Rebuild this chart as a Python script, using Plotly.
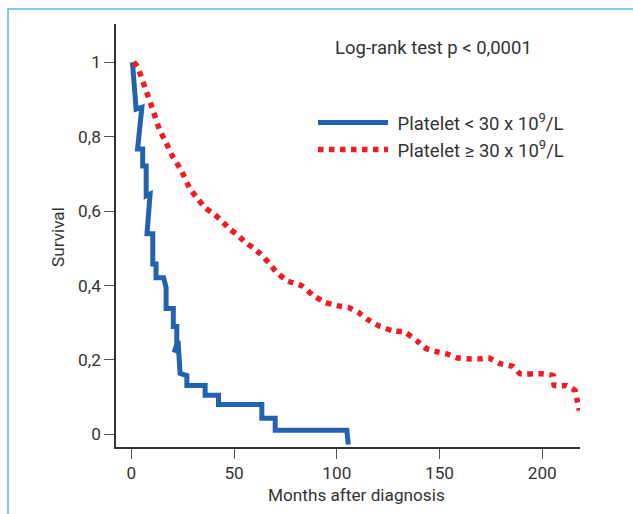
import plotly.graph_objects as go

# Kaplan-Meier curves
low_months = [0.5, 2.3, 5.1, 3.0, 5.5, 5.5, 7.2, 7.2, 9.1, 7.6, 10.4, 10.4, 12.0, 12.0, 15.7,
              16.9, 16.9, 20.4, 20.4, 22.1, 22.1, 20.8, 22.7, 23.7, 27.0, 27.0, 35.9, 35.9,
              42.4, 42.4, 63.5, 63.5, 70.0, 70.0, 104.9, 105.6]
low_surv = [1.0, 0.874, 0.879, 0.767, 0.767, 0.721, 0.721, 0.641, 0.646, 0.539, 0.539, 0.458,
            0.458, 0.421, 0.421, 0.394, 0.338, 0.338, 0.290, 0.290, 0.239, 0.220, 0.252, 0.164,
            0.158, 0.131, 0.131, 0.105, 0.105, 0.080, 0.080, 0.043, 0.043, 0.011, 0.011, -0.027]

high_months = [1.0, 2.9, 6.7, 10.4, 13.6, 16.9, 20.4, 24.1, 28.2, 31.8, 35.9, 40.7, 44.8, 48.1,
               52.1, 55.4, 59.1, 63.0, 66.7, 70.8, 75.7, 83.0, 88.6, 94.3, 100.0, 105.6, 110.5,
               114.6, 120.3, 126.8, 133.3, 138.9, 143.8, 149.5, 153.6, 158.4, 163.3, 169.8,
               173.8, 179.5, 186.0, 189.2, 199.8, 205.5, 205.8, 212.0, 216.0, 217.2, 218.1]
high_surv = [1.0, 0.989, 0.931, 0.873, 0.820, 0.784, 0.743, 0.712, 0.663, 0.636, 0.609, 0.590,
             0.569, 0.551, 0.534, 0.516, 0.502, 0.484, 0.462, 0.435, 0.413, 0.399, 0.373, 0.355,
             0.346, 0.341, 0.328, 0.310, 0.292, 0.279, 0.274, 0.252, 0.230, 0.221, 0.216, 0.206,
             0.203, 0.203, 0.206, 0.190, 0.182, 0.163, 0.163, 0.158, 0.131, 0.131, 0.118, 0.087,
             0.064]

x_ticks = [0, 50, 100, 150, 200]
y_ticks = [0, 0.2, 0.4, 0.6, 0.8, 1]
y_tick_labels = ["0", "0,2", "0,4", "0,6", "0,8", "1"]

FONT = "Roboto, sans-serif"
FS = 18.5      # annotation / legend text
FT = 17.2      # tick labels and axis titles
TXT = "#333333"
BLUE = "#2263b0"
RED = "#ee1c25"

W, H = 633, 514
ML, MR, MT, MB = 116, 53, 24, 67
PW, PH = W - ML - MR, H - MT - MB

fig = go.Figure()
fig.add_trace(go.Scatter(x=low_months, y=low_surv, mode="lines",
                         line=dict(color=BLUE, width=5),
                         name="\u00a0Platelet < 30 x 10<sup>9</sup>/L"))
fig.add_trace(go.Scatter(x=high_months, y=high_surv, mode="lines",
                         line=dict(color=RED, width=5.5, dash="dot", shape="spline", smoothing=0.3),
                         name="\u00a0Platelet \u2265 30 x 10<sup>9</sup>/L"))

def px_to_paper_x(px):
    return (px - ML) / PW

def px_to_paper_y(py):
    return (H - MB - py) / PH

fig.update_layout(
    width=W, height=H,
    margin=dict(l=ML, r=MR, t=MT, b=MB),
    paper_bgcolor="white", plot_bgcolor="white",
    font=dict(family=FONT, size=FS, color=TXT),
    showlegend=True,
    legend=dict(x=px_to_paper_x(313), y=px_to_paper_y(104), xanchor="left", yanchor="top",
                bgcolor="rgba(0,0,0,0)", font=dict(size=FS, color=TXT),
                itemwidth=70, tracegroupgap=0),
    xaxis=dict(range=[-7.5, 218.4], tickmode="array", tickvals=x_ticks,
               ticks="outside", ticklen=10, tickcolor="#555", tickwidth=1.2,
               showline=True, linecolor="#333", linewidth=1.5, showgrid=False, zeroline=False,
               tickfont=dict(size=FT, color=TXT)),
    yaxis=dict(range=[-0.034, 1.103], tickmode="array", tickvals=y_ticks, ticktext=y_tick_labels,
               ticks="outside", ticklen=10, tickcolor="#555", tickwidth=1.2,
               showline=True, linecolor="#333", linewidth=1.5, showgrid=False, zeroline=False,
               tickfont=dict(size=FT, color=TXT)),
    annotations=[
        dict(text="Log-rank test p < 0,0001", xref="paper", yref="paper",
             x=px_to_paper_x(333), y=px_to_paper_y(48), xanchor="left", yanchor="middle",
             showarrow=False, font=dict(size=FS, color=TXT)),
        dict(text="Months after diagnosis", xref="paper", yref="paper",
             x=px_to_paper_x(356), y=px_to_paper_y(495), xanchor="center", yanchor="middle",
             showarrow=False, font=dict(size=FT, color=TXT)),
        dict(text="Survival", xref="paper", yref="paper", textangle=-90,
             x=px_to_paper_x(58), y=px_to_paper_y(237), xanchor="center", yanchor="middle",
             showarrow=False, font=dict(size=FT, color=TXT)),
    ],
    shapes=[dict(type="rect", xref="paper", yref="paper",
                 x0=px_to_paper_x(8), y0=px_to_paper_y(520), x1=px_to_paper_x(640), y1=px_to_paper_y(9),
                 line=dict(color="#5cb3e3", width=1.5), layer="below")],
)

fig.write_html("out.html")
